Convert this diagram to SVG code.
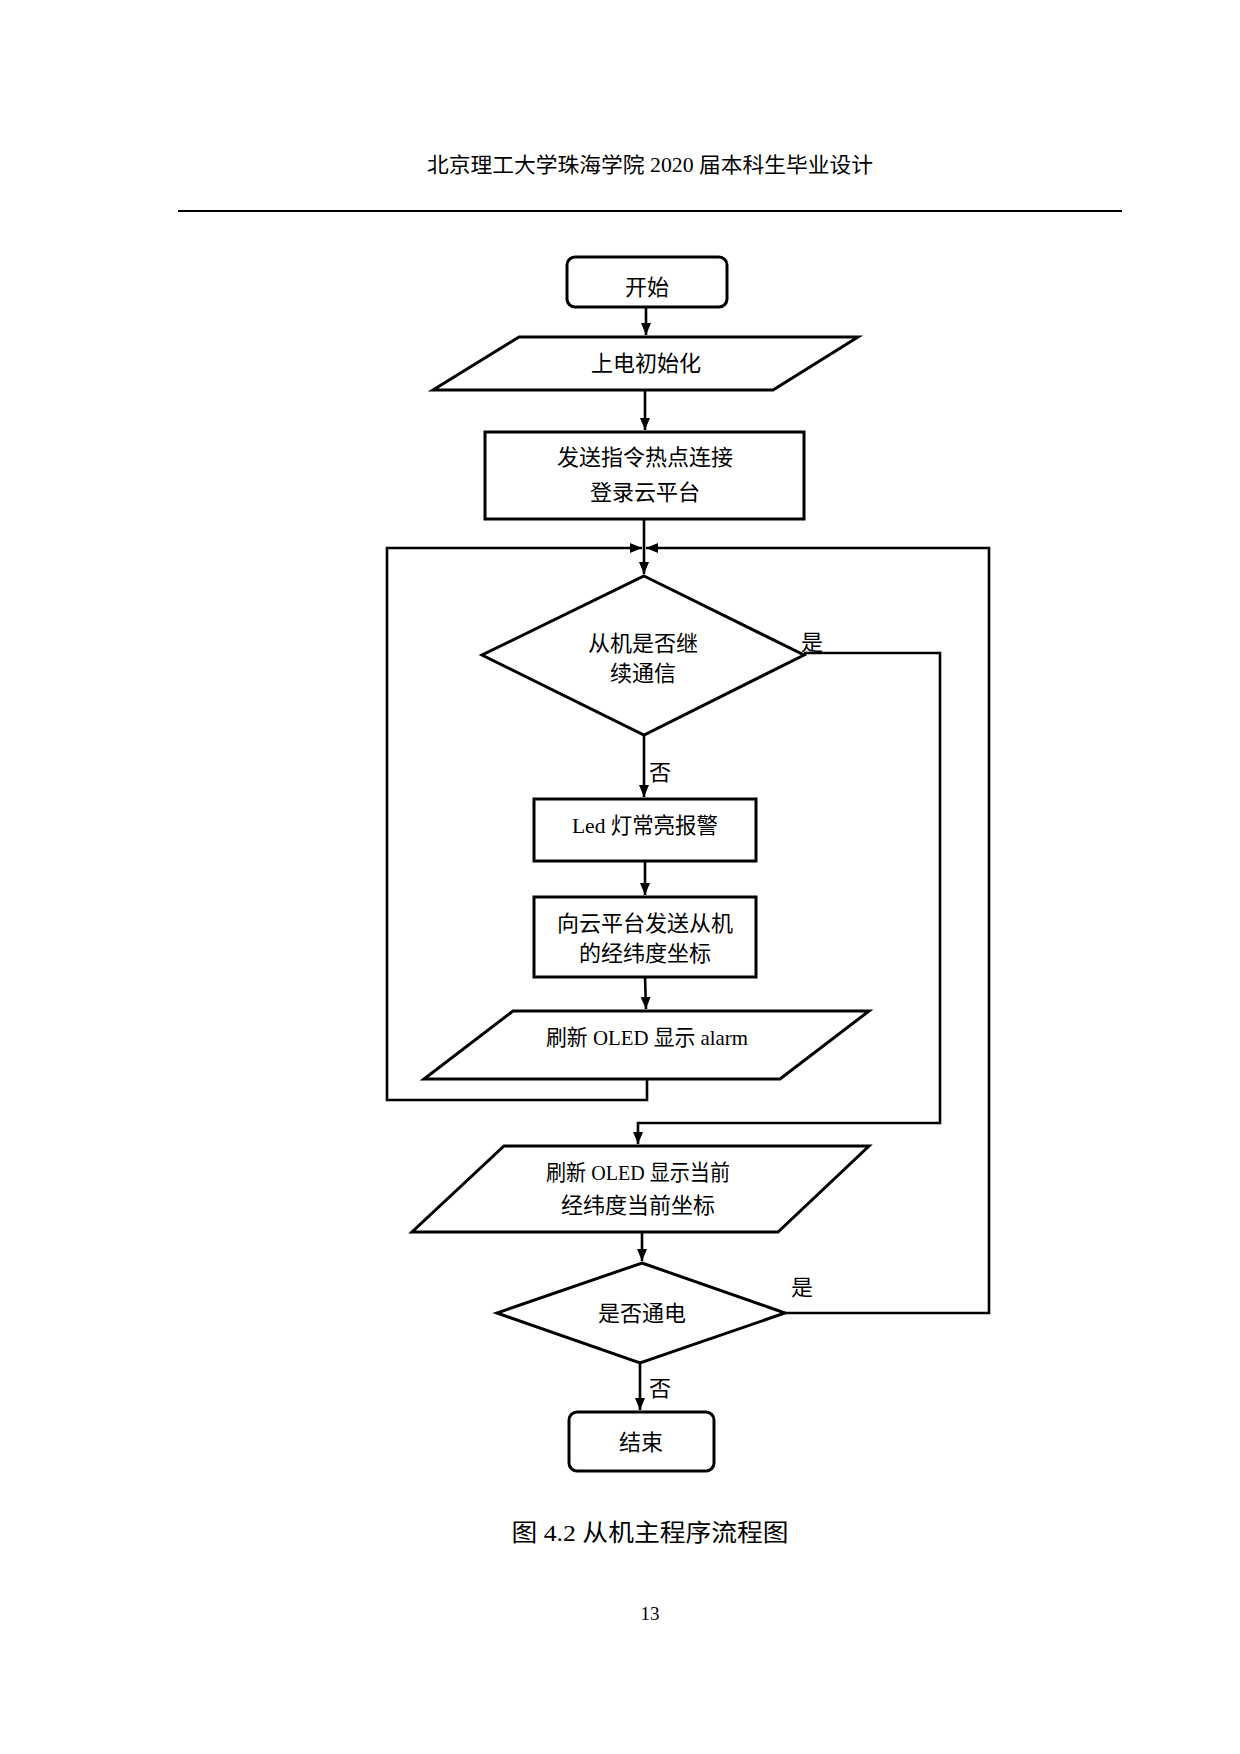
<svg xmlns="http://www.w3.org/2000/svg" width="1240" height="1754" viewBox="0 0 1240 1754">
<style>
  .shape { fill: #ffffff; stroke: #000000; stroke-width: 3; stroke-linejoin: miter; }
  .conn { fill: none; stroke: #000000; stroke-width: 2.6; }
  .t { font-family: "Liberation Serif", "Noto Sans CJK SC", serif; font-size: 22px; fill: #000000; text-anchor: middle; dominant-baseline: central; }
  .hdr { font-family: "Liberation Serif", "Noto Sans CJK SC", serif; font-size: 21px; fill: #000000; text-anchor: middle; dominant-baseline: central; }
  .cap { font-family: "Liberation Serif", "Noto Sans CJK SC", serif; font-size: 24px; fill: #000000; text-anchor: middle; dominant-baseline: central; }
  .pg { font-family: "Liberation Serif", serif; font-size: 19px; fill: #000000; text-anchor: middle; dominant-baseline: central; }
</style>
<defs>
  <marker id="arr" markerUnits="userSpaceOnUse" markerWidth="14" markerHeight="12" refX="12" refY="5" orient="auto">
    <path d="M0,0 L12,5 L0,10 Z" fill="#000000"/>
  </marker>
</defs>
<rect x="0" y="0" width="1240" height="1754" fill="#ffffff"/>

<g id="header">
  <text class="hdr" x="650" y="165" textLength="446" lengthAdjust="spacingAndGlyphs">北京理工大学珠海学院 2020 届本科生毕业设计</text>
  <line x1="178" y1="211" x2="1122" y2="211" stroke="#000000" stroke-width="2"/>
</g>

<g id="connectors">
  <path class="conn" d="M646,307 L646,335" marker-end="url(#arr)"/>
  <path class="conn" d="M645,390 L645,430" marker-end="url(#arr)"/>
  <path class="conn" d="M644,519 L644,574" marker-end="url(#arr)"/>
  <path class="conn" d="M644,735 L644,797" marker-end="url(#arr)"/>
  <path class="conn" d="M645,861 L645,895" marker-end="url(#arr)"/>
  <path class="conn" d="M645,977 L646,1009" marker-end="url(#arr)"/>
  <path class="conn" d="M647,1079 L647,1100 L387,1100 L387,548 L642,548" marker-end="url(#arr)"/>
  <path class="conn" d="M804,653 L940,653 L940,1123 L638,1123 L638,1144" marker-end="url(#arr)"/>
  <path class="conn" d="M642,1232 L642,1261" marker-end="url(#arr)"/>
  <path class="conn" d="M785,1313 L989,1313 L989,548 L646,548" marker-end="url(#arr)"/>
  <path class="conn" d="M640,1363 L640,1410" marker-end="url(#arr)"/>
  <text class="t" x="812" y="642">是</text>
  <text class="t" x="660" y="772">否</text>
  <text class="t" x="802" y="1287">是</text>
  <text class="t" x="660" y="1388">否</text>
</g>

<g id="start">
  <rect class="shape" x="567" y="257" width="160" height="50" rx="8" ry="8"/>
  <text class="t" x="647" y="287">开始</text>
</g>

<g id="init">
  <polygon class="shape" points="519,337 858,337 773,390 433,390"/>
  <text class="t" x="646" y="363">上电初始化</text>
</g>

<g id="connect">
  <rect class="shape" x="485" y="432" width="319" height="87"/>
  <text class="t" x="645" y="457">发送指令热点连接</text>
  <text class="t" x="645" y="492">登录云平台</text>
</g>

<g id="decision1">
  <polygon class="shape" points="644,576 804,655 644,735 482,655"/>
  <text class="t" x="643" y="643">从机是否继</text>
  <text class="t" x="643" y="673">续通信</text>
</g>

<g id="led">
  <rect class="shape" x="534" y="799" width="222" height="62"/>
  <text class="t" x="645" y="825" textLength="146" lengthAdjust="spacingAndGlyphs">Led 灯常亮报警</text>
</g>

<g id="send">
  <rect class="shape" x="534" y="897" width="222" height="80"/>
  <text class="t" x="645" y="923">向云平台发送从机</text>
  <text class="t" x="645" y="953">的经纬度坐标</text>
</g>

<g id="alarm">
  <polygon class="shape" points="513,1011 869,1011 780,1079 424,1079"/>
  <text class="t" x="647" y="1037" textLength="202" lengthAdjust="spacingAndGlyphs">刷新 OLED 显示 alarm</text>
</g>

<g id="display">
  <polygon class="shape" points="504,1146 869,1146 778,1232 412,1232"/>
  <text class="t" x="638" y="1172" textLength="184" lengthAdjust="spacingAndGlyphs">刷新 OLED 显示当前</text>
  <text class="t" x="638" y="1205">经纬度当前坐标</text>
</g>

<g id="decision2">
  <polygon class="shape" points="642,1263 785,1313 640,1363 497,1313"/>
  <text class="t" x="642" y="1313">是否通电</text>
</g>

<g id="end">
  <rect class="shape" x="569" y="1412" width="145" height="59" rx="8" ry="8"/>
  <text class="t" x="641" y="1442">结束</text>
</g>

<g id="caption">
  <text class="cap" x="650" y="1533" textLength="277" lengthAdjust="spacingAndGlyphs">图 4.2  从机主程序流程图</text>
  <text class="pg" x="650" y="1613">13</text>
</g>
</svg>
